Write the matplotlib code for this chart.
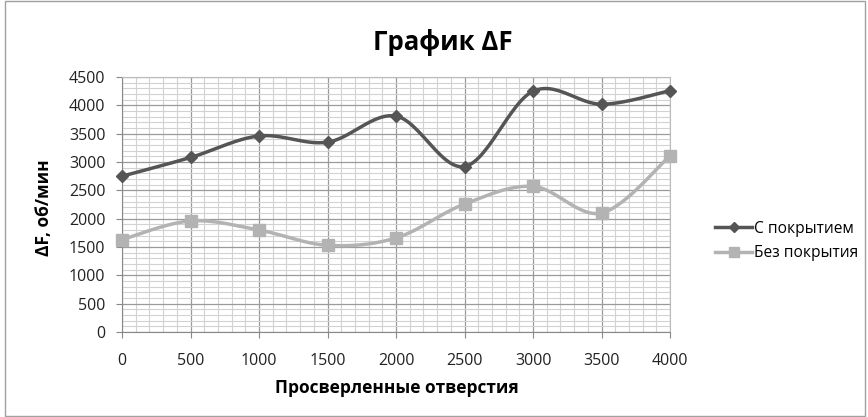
import numpy as np
import matplotlib.pyplot as plt
from matplotlib.ticker import MultipleLocator

plt.rcParams['font.family'] = ['Open Sans', 'DejaVu Sans']

holes = [0, 500, 1000, 1500, 2000, 2500, 3000, 3500, 4000]
coated = [2750, 3080, 3460, 3350, 3810, 2920, 4250, 4020, 4260]
uncoated = [1630, 1960, 1800, 1530, 1660, 2260, 2570, 2100, 3110]
names = ['С покрытием', 'Без покрытия']


def smooth(x, y, n=30):
    # Excel-style smoothed line: cubic bezier with catmull-rom control points
    x = np.asarray(x, float)
    y = np.asarray(y, float)
    px = np.concatenate([[x[0]], x, [x[-1]]])
    py = np.concatenate([[y[0]], y, [y[-1]]])
    xs, ys = [], []
    t = np.linspace(0, 1, n)
    for i in range(1, len(px) - 2):
        p0 = np.array([px[i], py[i]])
        p3 = np.array([px[i + 1], py[i + 1]])
        p1 = p0 + (np.array([px[i + 1], py[i + 1]]) - np.array([px[i - 1], py[i - 1]])) / 6
        p2 = p3 - (np.array([px[i + 2], py[i + 2]]) - np.array([px[i], py[i]])) / 6
        b = ((1 - t) ** 3)[:, None] * p0 + (3 * (1 - t) ** 2 * t)[:, None] * p1 \
            + (3 * (1 - t) * t ** 2)[:, None] * p2 + (t ** 3)[:, None] * p3
        xs.extend(b[:, 0])
        ys.extend(b[:, 1])
    return xs, ys


fig = plt.figure(figsize=(8.68, 4.17), dpi=100)
fig.patches.append(plt.Rectangle((0.006, 0.003), 0.991, 0.994, transform=fig.transFigure,
                                 fill=False, edgecolor='#a0a0a0', lw=1))
ax = fig.add_axes([0.1406, 0.2038, 0.6314, 0.6115])

dark = '#555555'
light = '#b3b3b3'
sx, sy = smooth(holes, coated)
ax.plot(sx, sy, color=dark, lw=2.5, zorder=3)
ax.plot(holes, coated, ls='none', marker='D', ms=6, color=dark, zorder=4, clip_on=False)
sx, sy = smooth(holes, uncoated)
ax.plot(sx, sy, color=light, lw=2.5, zorder=3)
ax.plot(holes, uncoated, ls='none', marker='s', ms=9, color=light, zorder=4, clip_on=False)

# legend proxies
ax.plot([], [], color=dark, lw=2.5, marker='D', ms=5, label=names[0])
ax.plot([], [], color=light, lw=2.5, marker='s', ms=7, label=names[1])
ax.legend(loc='center left', bbox_to_anchor=(1.082, 0.357), frameon=False, fontsize=11.2,
          handlelength=2.4, handletextpad=0.1, labelspacing=0.55, borderaxespad=0,
          borderpad=0)

ax.set_xlim(0, 4000)
ax.set_ylim(0, 4500)
ax.xaxis.set_major_locator(MultipleLocator(500))
ax.xaxis.set_minor_locator(MultipleLocator(100))
ax.yaxis.set_major_locator(MultipleLocator(500))
ax.yaxis.set_minor_locator(MultipleLocator(100))
ax.grid(which='major', color='#9a9a9a', lw=0.9)
ax.grid(which='minor', color='#d2d2d2', lw=0.8)
ax.set_axisbelow(True)
for s in ['top', 'right']:
    ax.spines[s].set_color('#bbbbbb')
for s in ['left', 'bottom']:
    ax.spines[s].set_color('#888888')
ax.tick_params(which='minor', length=0)
ax.tick_params(which='major', length=4, color='#888888', labelsize=11.5, labelcolor='#222222')
ax.tick_params(axis='y', pad=8)
ax.tick_params(axis='x', pad=11)

fig.text(0.51, 0.899, 'График ΔF', fontsize=18.5, fontweight='bold', ha='center', va='center')
fig.text(0.457, 0.07, 'Просверленные отверстия', fontsize=12.5, fontweight='bold',
         ha='center', va='center')
fig.text(0.051, 0.501, 'ΔF, об/мин', fontsize=12.5, fontweight='bold', rotation=90,
         ha='center', va='center')

fig.savefig('out.png', dpi=100)
